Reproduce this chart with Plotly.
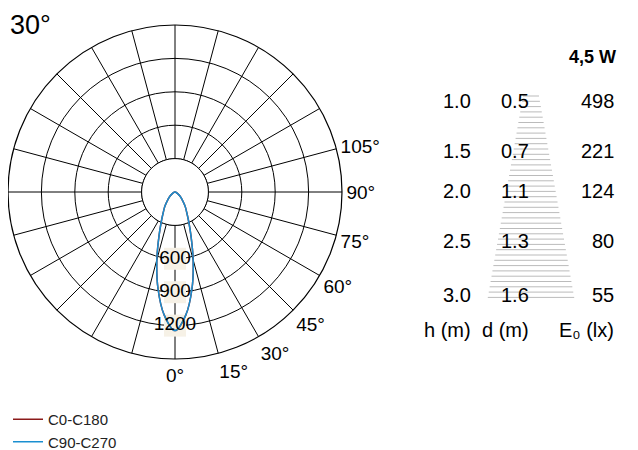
import plotly.graph_objects as go

gamma = [0, 5, 10, 15, 20, 25, 30, 35, 40, 50, 60, 75, 90]
cd_c0 = [1245, 1110, 880, 630, 420, 290, 210, 160, 115, 60, 25, 8, 0]
cd_c90 = [1245, 1110, 880, 630, 420, 290, 210, 160, 115, 60, 25, 8, 0]
radial_labels = [600, 900, 1200]
angle_labels = ["0°", "15°", "30°", "45°", "60°", "75°", "90°", "105°"]

h_vals = ["1.0", "1.5", "2.0", "2.5", "3.0"]
d_vals = ["0.5", "0.7", "1.1", "1.3", "1.6"]
e_vals = ["498", "221", "124", "80", "55"]

FONT = "Liberation Sans, Arial, sans-serif"

def mirror(g, v):
    th = [-a for a in reversed(g)] + g[1:]
    r = list(reversed(v)) + v[1:]
    return th, r

fig = go.Figure()
circ = list(range(0, 361, 5))
fig.add_trace(go.Scatterpolar(r=[300]*len(circ), theta=circ, mode="lines", fill="toself",
                              fillcolor="white", line=dict(color="black", width=1),
                              showlegend=False, hoverinfo="skip"))
fig.add_trace(go.Scatterpolar(r=radial_labels, theta=[0]*3, mode="markers",
                              marker=dict(symbol="square", size=22, color="#f6f1e6"),
                              showlegend=False, hoverinfo="skip"))
th, r = mirror(gamma, cd_c0)
fig.add_trace(go.Scatterpolar(r=r, theta=th, mode="lines", name="C0-C180",
                              line=dict(color="#8b1a1a", width=1.5, shape="spline")))
th, r = mirror(gamma, cd_c90)
fig.add_trace(go.Scatterpolar(r=r, theta=th, mode="lines", name="C90-C270",
                              line=dict(color="#1a8fd0", width=1.5, shape="spline")))
fig.add_trace(go.Scatterpolar(r=radial_labels, theta=[0]*3, mode="text",
                              text=[str(v) for v in radial_labels],
                              textfont=dict(size=19, color="black", family=FONT),
                              showlegend=False, hoverinfo="skip"))

tickvals = list(range(0, 360, 15))
ticktext = [angle_labels[i] if i < len(angle_labels) else "" for i in range(len(tickvals))]

fig.update_layout(
    width=638, height=450, paper_bgcolor="white", plot_bgcolor="white",
    margin=dict(l=0, r=0, t=0, b=0),
    font=dict(family=FONT, color="black"),
    polar=dict(
        domain=dict(x=[0, 334/638], y=[1-351/450, 1-17/450]),
        bgcolor="white",
        angularaxis=dict(rotation=-90, direction="counterclockwise",
                         tickvals=tickvals, ticktext=ticktext, ticks="",
                         gridcolor="black", gridwidth=1, linecolor="black", linewidth=1.2,
                         tickfont=dict(size=19, color="black")),
        radialaxis=dict(range=[0, 1500], tickvals=[300, 600, 900, 1200, 1500],
                        showticklabels=False, ticks="", gridcolor="black", gridwidth=1,
                        showline=False),
    ),
    showlegend=True,
    legend=dict(x=0.0, y=0.0, xanchor="left", yanchor="bottom",
                font=dict(size=15, color="#222"), bgcolor="rgba(0,0,0,0)",
                tracegroupgap=0, itemwidth=30),
)

anns = [dict(text="30°", x=0, y=1, xref="paper", yref="paper", xanchor="left", yanchor="top",
             showarrow=False, font=dict(size=27))]
anns.append(dict(text="<b>4,5 W</b>", x=610/638, y=1-37/450, xref="paper", yref="paper",
                 showarrow=False, font=dict(size=18)))
rows_y = [80, 130, 183, 233, 287]
for i, yy in enumerate(rows_y):
    for xx, col in [(465, h_vals), (523, d_vals), (608, e_vals)]:
        anns.append(dict(text=col[i], x=xx/638, y=1-yy/450, xref="paper", yref="paper",
                         showarrow=False, font=dict(size=20)))
for xx, t in [(465, "h (m)"), (523, "d (m)"), (608, "E₀ (lx)")]:
    anns.append(dict(text=t, x=xx/638, y=1-335/450, xref="paper", yref="paper",
                     showarrow=False, font=dict(size=20)))
fig.update_layout(annotations=anns)

shapes = []
y = 88
while y <= 294:
    hw = 8 + (y - 88) * (44 - 8) / (294 - 88)
    shapes.append(dict(type="line", xref="paper", yref="paper",
                       x0=(523-hw)/638, x1=(523+hw)/638, y0=1-y/450, y1=1-y/450,
                       line=dict(color="#bbbbbb", width=1)))
    y += 5.3
fig.update_layout(shapes=shapes)

fig.write_html("out.html")
